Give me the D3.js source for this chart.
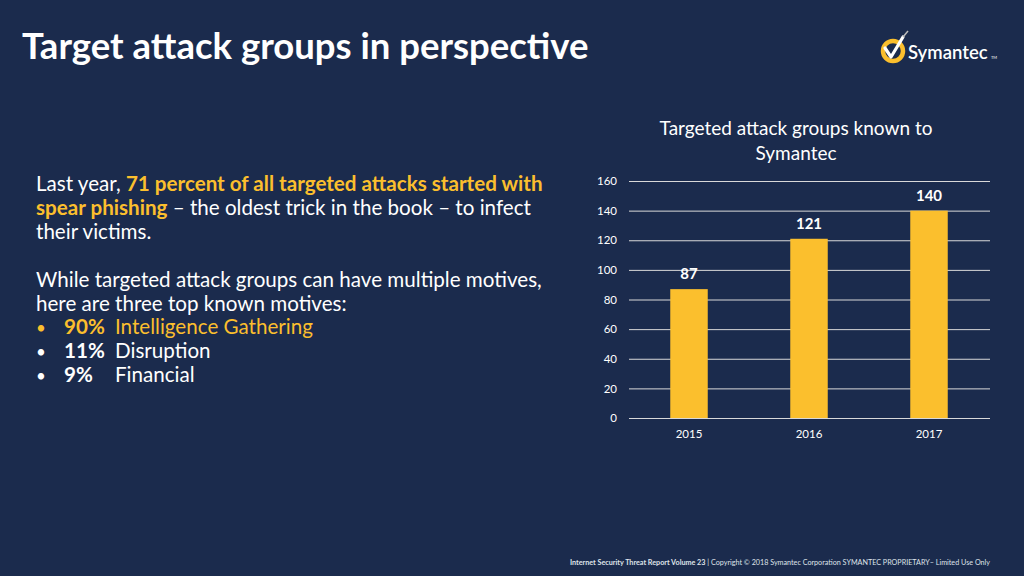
<!DOCTYPE html>
<html>
<head>
<meta charset="utf-8">
<script src="https://cdn.jsdelivr.net/npm/d3@7"></script>
<style>
html,body{margin:0;padding:0;background:#1b2b4d;}
svg{display:block;}
text{font-family:Lato,"Open Sans",sans-serif;}
</style>
</head>
<body>
<svg id="c" width="1024" height="576"></svg>
<script>
const years = ["2015", "2016", "2017"];
const groups = [87, 121, 140];
const yTicks = [0, 20, 40, 60, 80, 100, 120, 140, 160];
const chartTitle = ["Targeted attack groups known to", "Symantec"];
const motives = [
  {pct: "90%", label: "Intelligence Gathering", hi: true},
  {pct: "11%", label: "Disruption", hi: false},
  {pct: "9%", label: "Financial", hi: false}
];

const YEL = "#fbbf2d";
const svg = d3.select("#c");
svg.append("rect").attr("width",1024).attr("height",576).attr("fill","#1b2b4d");

// Main title
svg.append("text").attr("x",22).attr("y",59).attr("fill","#fff")
  .attr("font-size",36.5).attr("font-weight",700).text("Target attack groups in perspective");

// Logo
const logo = svg.append("g");
logo.append("circle").attr("cx",893).attr("cy",51).attr("r",10).attr("fill","none")
  .attr("stroke",YEL).attr("stroke-width",4.5);
logo.append("path").attr("d","M885,48 L891,57 L903,37").attr("fill","none")
  .attr("stroke","#fff").attr("stroke-width",3.2).attr("stroke-linecap","round").attr("stroke-linejoin","round");
logo.append("line").attr("x1",903).attr("y1",37).attr("x2",908).attr("y2",31)
  .attr("stroke","#bbb").attr("stroke-width",1.5);
logo.append("text").attr("x",908).attr("y",59).attr("fill","#fff").attr("font-size",18.5)
  .attr("font-weight",600).text("Symantec");
logo.append("text").attr("x",991).attr("y",59).attr("fill","#fff").attr("font-size",4).text("TM");

// Body text
const body = svg.append("g").attr("font-size",20.6).attr("fill","#fff");
const l1 = body.append("text").attr("x",36).attr("y",191);
l1.append("tspan").text("Last year, ");
l1.append("tspan").attr("fill",YEL).attr("font-weight",700).text("71 percent of all targeted attacks started with");
const l2 = body.append("text").attr("x",36).attr("y",215);
l2.append("tspan").attr("fill",YEL).attr("font-weight",700).text("spear phishing");
l2.append("tspan").text(" \u2013 the oldest trick in the book \u2013 to infect");
body.append("text").attr("x",36).attr("y",239).text("their victims.");
body.append("text").attr("x",36).attr("y",287).text("While targeted attack groups can have multiple motives,");
body.append("text").attr("x",36).attr("y",311).text("here are three top known motives:");
motives.forEach((m,i)=>{
  const y = 334 + i*24;
  const col = m.hi ? YEL : "#fff";
  body.append("text").attr("x",36).attr("y",y).attr("fill",col).attr("font-size",17).text("\u2022");
  body.append("text").attr("x",64).attr("y",y).attr("fill",col).attr("font-weight",700).text(m.pct);
  body.append("text").attr("x",115).attr("y",y).attr("fill",col).text(m.label);
});

// Chart
const x = d3.scaleBand().domain(years).range([629,989]).paddingInner(0.6875).paddingOuter(0.34375);
const y = d3.scaleLinear().domain([0,160]).range([418,181]);

const ct = svg.append("text").attr("text-anchor","middle").attr("fill","#fff").attr("font-size",19);
chartTitle.forEach((t,i)=>ct.append("tspan").attr("x",796).attr("y",135+i*25).text(t));

const yAxis = svg.append("g").attr("transform","translate(629,0)")
  .call(d3.axisLeft(y).tickValues(yTicks).tickSize(-361).tickPadding(12));
yAxis.select(".domain").remove();
yAxis.selectAll(".tick line").attr("stroke","#d9d9d9").attr("stroke-width",1);
yAxis.selectAll(".tick text").attr("fill","#fff").attr("font-size",11.5).attr("font-family","Lato,sans-serif");

const xAxis = svg.append("g").attr("transform","translate(0,418)")
  .call(d3.axisBottom(x).tickSize(0).tickPadding(12));
xAxis.select(".domain").remove();
xAxis.selectAll(".tick text").attr("fill","#fff").attr("font-size",11.5).attr("font-family","Lato,sans-serif");

svg.append("g").selectAll("rect").data(years).join("rect")
  .attr("x",d=>x(d)).attr("width",x.bandwidth())
  .attr("y",(d,i)=>y(groups[i])).attr("height",(d,i)=>y(0)-y(groups[i]))
  .attr("fill",YEL);

svg.append("g").selectAll("text").data(years).join("text")
  .attr("x",d=>x(d)+x.bandwidth()/2).attr("y",(d,i)=>y(groups[i])-10)
  .attr("text-anchor","middle").attr("fill","#fff").attr("font-weight",700).attr("font-size",15)
  .text((d,i)=>groups[i]);

// Footer
const f = svg.append("text").attr("x",570).attr("y",565).attr("fill","#dfe3ea").attr("font-size",7.2);
f.append("tspan").attr("font-weight",700).text("Internet Security Threat Report Volume 23");
f.append("tspan").text("  |  Copyright \u00a9 2018 Symantec Corporation SYMANTEC PROPRIETARY\u2013 Limited Use Only");
</script>
</body>
</html>
